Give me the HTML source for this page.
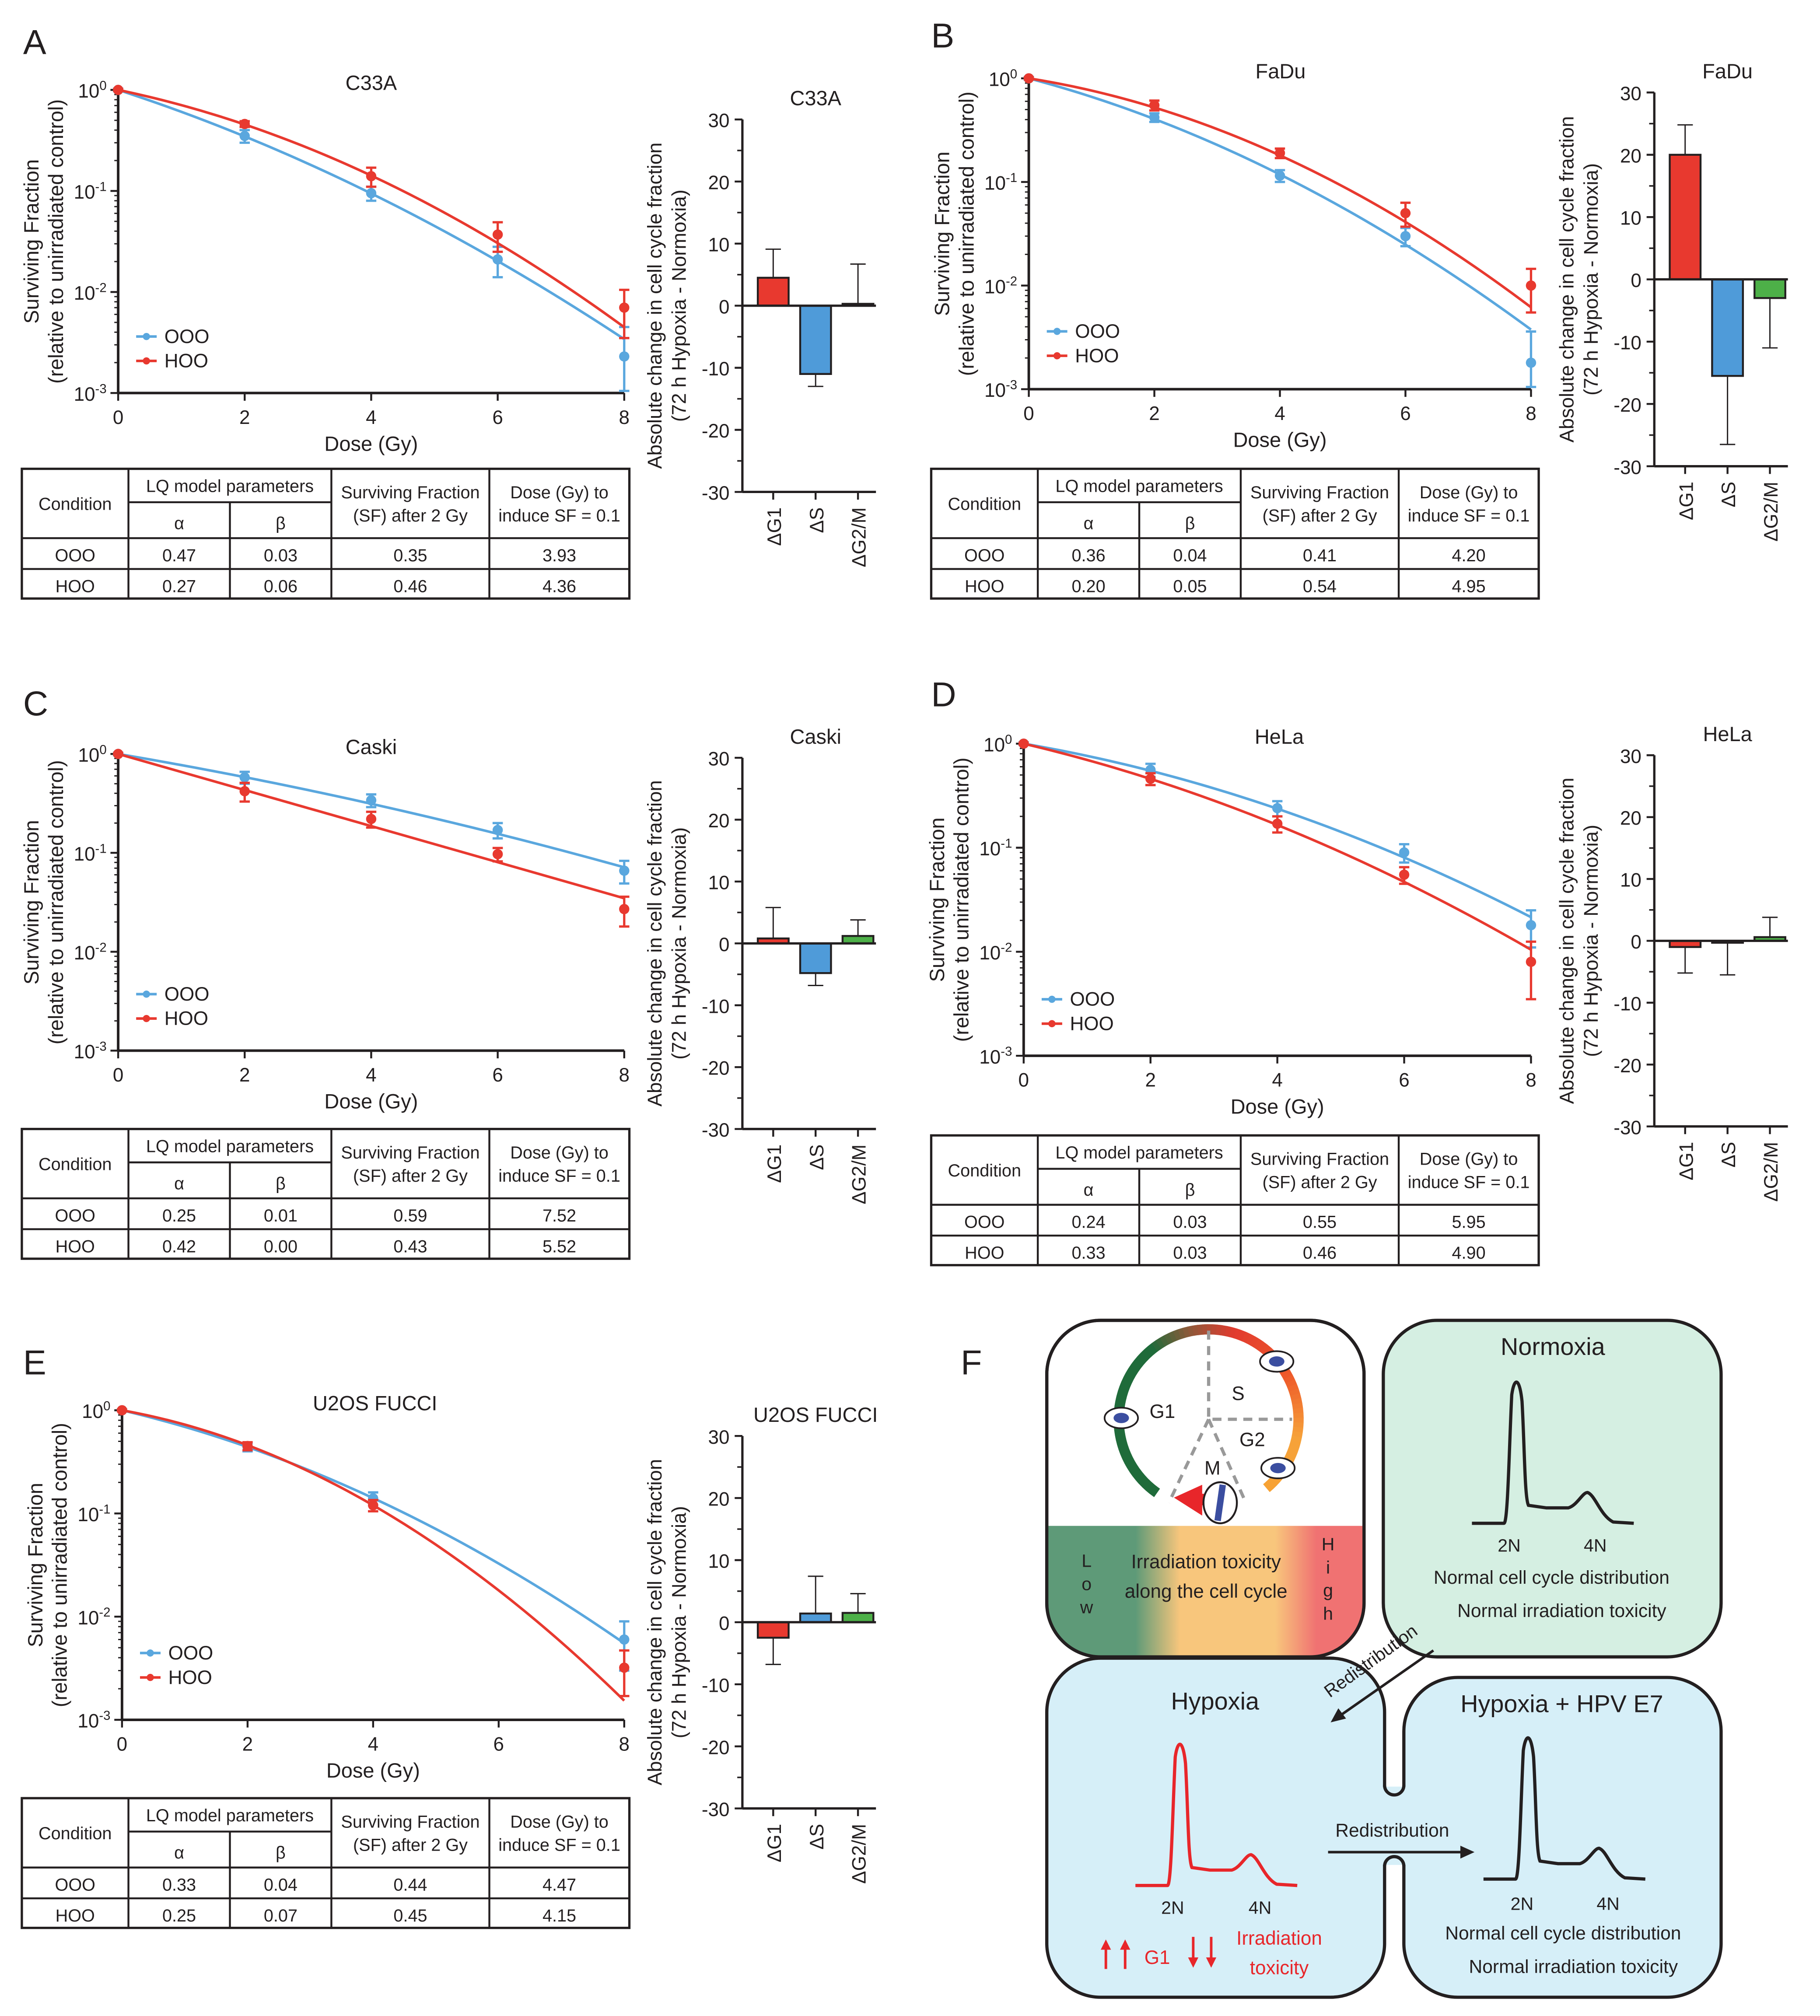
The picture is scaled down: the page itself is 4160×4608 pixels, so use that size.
<!DOCTYPE html>
<html><head><meta charset="utf-8"><style>
html,body{margin:0;padding:0;background:#fff}
svg{display:block}
text{font-family:"Liberation Sans",sans-serif;fill:#231f20}
.n{font-family:"Liberation Sans Narrow","Liberation Sans",sans-serif}
</style></head><body>
<svg id="fig" xmlns="http://www.w3.org/2000/svg" width="4160" height="4608" viewBox="0 0 1417 1569.6">
<g id="root"></g>
<g id="panelF"></g>
</svg>
<script>
// ---------- data ----------
const doses=[0,2,4,6,8];
const aOOO=[1,0.35,0.095,0.021,0.0023], aHOO=[1,0.46,0.14,0.037,0.007];
const aErrO=[0.03,0.05,0.015,0.007,0.0022], aErrH=[0.02,0.03,0.03,0.012,0.0035];
const aParO=[0.47,0.03], aParH=[0.30,0.047];
const aBars=[4.5,-11,0.3], aBarErr=[4.6,-2,6.4];
const bOOO=[1,0.42,0.115,0.03,0.0018], bHOO=[1,0.55,0.19,0.05,0.01];
const bErrO=[0.03,0.04,0.015,0.006,0.0018], bErrH=[0.02,0.06,0.02,0.013,0.0045];
const bParO=[0.37,0.041], bParH=[0.22,0.052];
const bBars=[20,-15.5,-3], bBarErr=[4.8,-11,-8];
const cOOO=[1,0.58,0.34,0.17,0.066], cHOO=[1,0.42,0.22,0.097,0.027];
const cErrO=[0.03,0.08,0.05,0.03,0.017], cErrH=[0.02,0.09,0.04,0.015,0.009];
const cParO=[0.25,0.01], cParH=[0.42,0.00];
const cBars=[0.8,-4.8,1.2], cBarErr=[5,-2,2.6];
const dOOO=[1,0.56,0.24,0.09,0.018], dHOO=[1,0.46,0.17,0.055,0.008];
const dErrO=[0.03,0.08,0.04,0.018,0.007], dErrH=[0.02,0.06,0.03,0.01,0.0045];
const dParO=[0.24,0.03], dParH=[0.33,0.03];
const dBars=[-1,-0.3,0.6], dBarErr=[-4.2,-5.2,3.2];
const eDoses=[0,2,4,8];
const eOOO=[1,0.44,0.14,0.006], eHOO=[1,0.45,0.12,0.0032];
const eErrO=[0.02,0.04,0.02,0.003], eErrH=[0.02,0.04,0.015,0.0015];
const eParO=[0.33,0.04], eParH=[0.25,0.07];
const eBars=[-2.5,1.4,1.5], eBarErr=[-4.3,6,3.1];
const barCats=['ΔG1','ΔS','ΔG2/M'];
const barTicks=[30,20,10,0,-10,-20,-30];
const doseTicks=[0,2,4,6,8];
const decadeExp=[0,-1,-2,-3];
const tblA=[['OOO','0.47','0.03','0.35','3.93'],['HOO','0.27','0.06','0.46','4.36']];
const tblB=[['OOO','0.36','0.04','0.41','4.20'],['HOO','0.20','0.05','0.54','4.95']];
const tblC=[['OOO','0.25','0.01','0.59','7.52'],['HOO','0.42','0.00','0.43','5.52']];
const tblD=[['OOO','0.24','0.03','0.55','5.95'],['HOO','0.33','0.03','0.46','4.90']];
const tblE=[['OOO','0.33','0.04','0.44','4.47'],['HOO','0.25','0.07','0.45','4.15']];

const NS='http://www.w3.org/2000/svg';
const BLUE='#5aa7de', RED='#e8392f', GREEN='#4db048', BBLUE='#4f9bd9';
function E(p,tag,at,txt){const e=document.createElementNS(NS,tag);for(const k in at)e.setAttribute(k,at[k]);if(txt!=null)e.textContent=txt;p.appendChild(e);return e;}
const root=document.getElementById('root');

function survival(g,o){
  const sx=d=>o.x0+(o.x8-o.x0)*d/8;
  const sy=v=>o.y0+(o.y3-o.y0)*(-Math.log10(v))/3;
  const ax=E(g,'g',{});
  
  E(ax,'line',{x1:o.x0,y1:o.y0-3,x2:o.x0,y2:o.y3,stroke:'#231f20','stroke-width':2});
  E(ax,'line',{x1:o.x0,y1:o.y3,x2:o.x8,y2:o.y3,stroke:'#231f20','stroke-width':2});
  doseTicks.forEach(d=>{E(ax,'line',{x1:sx(d),y1:o.y3,x2:sx(d),y2:o.y3+6,stroke:'#231f20','stroke-width':1.5});
    const t=E(ax,'text',{x:sx(d),y:o.y3+24,'font-size':15,'text-anchor':'middle',class:'n'},String(d));
    });
  decadeExp.forEach(ex=>{const y=sy(Math.pow(10,ex));
    E(ax,'line',{x1:o.x0-6,y1:y,x2:o.x0,y2:y,stroke:'#231f20','stroke-width':1.5});
    if(ex>-3)for(let m=2;m<10;m++){const yy=sy(m*Math.pow(10,ex-1));E(ax,'line',{x1:o.x0-3,y1:yy,x2:o.x0,y2:yy,stroke:'#231f20','stroke-width':1});}
    const t=E(ax,'text',{x:o.x0-9,y:y+6,'font-size':15,'text-anchor':'end',class:'n'});
    
    E(t,'tspan',{},'10');E(t,'tspan',{dy:-6,'font-size':10},String(ex));});
  const tt=E(g,'text',{x:o.tx,y:o.y0,'font-size':16,'text-anchor':'middle',class:'n'},o.title);
  
  const xl=E(g,'text',{x:(o.x0+o.x8)/2,y:o.y3+45,'font-size':16,'text-anchor':'middle',class:'n'},'Dose (Gy)');
  
  const cy=(o.y0+o.y3)/2;
  const yl=E(g,'text',{x:0,y:0,'font-size':16,'text-anchor':'middle',transform:`translate(${o.x0-62},${cy}) rotate(-90)`},'Surviving Fraction');
  
  const yl2=E(g,'text',{x:0,y:0,'font-size':16,'text-anchor':'middle',transform:`translate(${o.x0-43},${cy}) rotate(-90)`},'(relative to unirradiated control)');
  
  const series=[[o.O,o.eO,o.pO,BLUE,'ooo'],[o.H,o.eH,o.pH,RED,'hoo']];
  series.forEach(([vals,errs,par,col,nm])=>{
    let d='';for(let i=0;i<=80;i++){const D=8*i/80;const v=Math.exp(-par[0]*D-par[1]*D*D);d+=(i?'L':'M')+sx(D).toFixed(2)+','+sy(Math.max(v,1e-3)).toFixed(2);}
    const c=E(g,'path',{d,fill:'none',stroke:col,'stroke-width':2});
    
    vals.forEach((v,i)=>{const x=sx(o.doses[i]);const lo=Math.max(v-errs[i],1.05e-3),hi=v+errs[i];
      E(g,'line',{x1:x,y1:sy(lo),x2:x,y2:sy(hi),stroke:col,'stroke-width':1.8});
      E(g,'line',{x1:x-4,y1:sy(lo),x2:x+4,y2:sy(lo),stroke:col,'stroke-width':1.8});
      E(g,'line',{x1:x-4,y1:sy(hi),x2:x+4,y2:sy(hi),stroke:col,'stroke-width':1.8});
      const p=E(g,'circle',{cx:x,cy:sy(v),r:4,fill:col});
      });
  });
  [['OOO',BLUE],['HOO',RED]].forEach(([n,col],i)=>{
    const lg=E(g,'g',{});
    const y=o.ly+i*19;
    E(lg,'line',{x1:o.lx,y1:y,x2:o.lx+16,y2:y,stroke:col,'stroke-width':2});
    E(lg,'circle',{cx:o.lx+8,cy:y,r:2.8,fill:col});
    E(lg,'text',{x:o.lx+22,y:y+5,'font-size':15,class:'n'},n);
  });
}

function bars(g,b){
  const sy=v=>b.y0+(b.yn-b.y0)*(30-v)/60;
  const cx=i=>b.ax+24+i*33;
  E(g,'line',{x1:b.ax,y1:sy(30),x2:b.ax,y2:sy(-30),stroke:'#231f20','stroke-width':1.8});
  E(g,'line',{x1:b.ax,y1:sy(-30),x2:b.ax+104,y2:sy(-30),stroke:'#231f20','stroke-width':1.8});
  barTicks.forEach(t=>{E(g,'line',{x1:b.ax-6,y1:sy(t),x2:b.ax,y2:sy(t),stroke:'#231f20','stroke-width':1.5});
    if(t>-30)E(g,'line',{x1:b.ax-4,y1:sy(t-5),x2:b.ax,y2:sy(t-5),stroke:'#231f20','stroke-width':1.2});
    const l=E(g,'text',{x:b.ax-10,y:sy(t)+6,'font-size':15,'text-anchor':'end',class:'n'},String(t));
    });
  const cols=[RED,BBLUE,GREEN];
  b.vals.forEach((v,i)=>{const x=cx(i);
    const r=E(g,'rect',{x:x-12,y:Math.min(sy(0),sy(v)),width:24,height:Math.max(Math.abs(sy(v)-sy(0)),1.5),fill:cols[i],stroke:'#231f20','stroke-width':1.5});
    
    const e=v+b.err[i];
    E(g,'line',{x1:x,y1:sy(v),x2:x,y2:sy(e),stroke:'#231f20','stroke-width':1});
    E(g,'line',{x1:x-6,y1:sy(e),x2:x+6,y2:sy(e),stroke:'#231f20','stroke-width':1});
    E(g,'line',{x1:x,y1:sy(-30),x2:x,y2:sy(-30)+6,stroke:'#231f20','stroke-width':1.5});
    const t=E(g,'text',{x:0,y:0,'font-size':15,'text-anchor':'end',transform:`translate(${x+6},${sy(-30)+12}) rotate(-90)`},barCats[i]);
    });
  E(g,'line',{x1:b.ax,y1:sy(0),x2:b.ax+104,y2:sy(0),stroke:'#231f20','stroke-width':1.8});
  const tt=E(g,'text',{x:b.ax+57,y:b.y0-11,'font-size':16,'text-anchor':'middle',class:'n'},b.title);
  
  const cy=(sy(30)+sy(-30))/2;
  const y1=E(g,'text',{x:0,y:0,'font-size':15.5,'text-anchor':'middle',transform:`translate(${b.ax-63},${cy}) rotate(-90)`},'Absolute change in cell cycle fraction');
  
  E(g,'text',{x:0,y:0,'font-size':15.5,'text-anchor':'middle',transform:`translate(${b.ax-44},${cy}) rotate(-90)`},'(72 h Hypoxia - Normoxia)');
}

function table(g,x,y,rows){
  const cx=[0,83,162,241,364,473].map(v=>v+x);
  const ry=[0,26,54,78,101].map(v=>v+y);
  const t=E(g,'g',{});
  const L=(a,b,c,d)=>E(t,'line',{x1:a,y1:b,x2:c,y2:d,stroke:'#231f20','stroke-width':1.5});
  E(t,'rect',{x:cx[0],y:ry[0],width:cx[5]-cx[0],height:ry[4]-ry[0],fill:'none',stroke:'#231f20','stroke-width':1.8});
  L(cx[0],ry[2],cx[5],ry[2]);L(cx[0],ry[3],cx[5],ry[3]);L(cx[1],ry[1],cx[3],ry[1]);
  [1,3,4].forEach(i=>L(cx[i],ry[0],cx[i],ry[4]));L(cx[2],ry[1],cx[2],ry[4]);
  const T=(xx,yy,s)=>E(t,'text',{x:xx,y:yy,'font-size':13.5,'text-anchor':'middle',class:'n'},s);
  T((cx[0]+cx[1])/2,ry[0]+32,'Condition');T((cx[1]+cx[3])/2,ry[0]+18,'LQ model parameters');
  T((cx[1]+cx[2])/2,ry[1]+21,'α');T((cx[2]+cx[3])/2,ry[1]+21,'β');
  T((cx[3]+cx[4])/2,ry[0]+23,'Surviving Fraction');T((cx[3]+cx[4])/2,ry[0]+41,'(SF) after 2 Gy');
  T((cx[4]+cx[5])/2,ry[0]+23,'Dose (Gy) to');T((cx[4]+cx[5])/2,ry[0]+41,'induce SF = 0.1');
  rows.forEach((r,ri)=>r.forEach((s,ci)=>T((cx[ci]+cx[ci+1])/2,ry[2+ri]+18,s)));
}

function panel(name,letter,lp,o,b,tb,rows){
  const g=E(root,'g',{});
  E(g,'text',{x:lp[0],y:lp[1],'font-size':27},letter);
  survival(g,o);bars(g,b);table(g,tb[0],tb[1],rows);
}
panel('a','A',[18,42],{x0:92,x8:486,y0:70,y3:306,title:'C33A',tx:289,O:aOOO,H:aHOO,eO:aErrO,eH:aErrH,pO:aParO,pH:aParH,doses,lx:106,ly:262},
  {ax:578,y0:93,yn:383,vals:aBars,err:aBarErr,title:'C33A'},[17,365],tblA);
panel('b','B',[725,37],{x0:801,x8:1192,y0:61,y3:303,title:'FaDu',tx:997,O:bOOO,H:bHOO,eO:bErrO,eH:bErrH,pO:bParO,pH:bParH,doses,lx:815,ly:258},
  {ax:1288,y0:72,yn:363,vals:bBars,err:bBarErr,title:'FaDu'},[725,365],tblB);
panel('c','C',[18,557],{x0:92,x8:486,y0:587,y3:818,title:'Caski',tx:289,O:cOOO,H:cHOO,eO:cErrO,eH:cErrH,pO:cParO,pH:cParH,doses,lx:106,ly:774},
  {ax:578,y0:590,yn:879,vals:cBars,err:cBarErr,title:'Caski'},[17,879],tblC);
panel('d','D',[725,550],{x0:797,x8:1192,y0:579,y3:822,title:'HeLa',tx:996,O:dOOO,H:dHOO,eO:dErrO,eH:dErrH,pO:dParO,pH:dParH,doses,lx:811,ly:778},
  {ax:1288,y0:588,yn:877,vals:dBars,err:dBarErr,title:'HeLa'},[725,884],tblD);
panel('e','E',[18,1070],{x0:95,x8:486,y0:1098,y3:1339,title:'U2OS FUCCI',tx:292,O:eOOO,H:eHOO,eO:eErrO,eH:eErrH,pO:eParO,pH:eParH,doses:eDoses,lx:109,ly:1287},
  {ax:578,y0:1118,yn:1408,vals:eBars,err:eBarErr,title:'U2OS FUCCI'},[17,1400],tblE);

// ---------- panel F ----------
const F=document.getElementById('panelF');
E(F,'text',{x:748,y:1070,'font-size':27},'F');
const defs=E(F,'defs',{});
const lg=E(defs,'linearGradient',{id:'tox',x1:0,x2:1,y1:0,y2:0});
[[0,'#5e9a78'],[0.28,'#5e9a78'],[0.42,'#f8c67c'],[0.72,'#f8c67c'],[0.85,'#f07272'],[1,'#f07272']].forEach(([o,c])=>E(lg,'stop',{offset:o,'stop-color':c}));
const cp=E(defs,'clipPath',{id:'tl'});
E(cp,'rect',{x:815,y:1028,width:247,height:262,rx:42});
function box(x,y,w,h,fill,name){const r=E(F,'rect',{x,y,width:w,height:h,rx:42,fill,stroke:'#231f20','stroke-width':2.5});}
box(1077,1028,263,262,'#d5efe2','normoxia-box');
box(815,1291,263,264,'#d6eff8','hypoxia-box');
box(1093,1306,247,249,'#d6eff8','hypoxia-hpv-box');
// channel joining the two lower boxes
E(F,'rect',{x:1076,y:1391,width:19,height:61,fill:'#d6eff8'});
E(F,'path',{d:'M1078,1390A7.5,7.5 0 0 0 1093,1390',fill:'none',stroke:'#231f20','stroke-width':2.5});
E(F,'path',{d:'M1078,1453A7.5,7.5 0 0 1 1093,1453',fill:'none',stroke:'#231f20','stroke-width':2.5});
box(815,1028,247,262,'#fff','cell-cycle-box');
E(F,'rect',{x:815,y:1188,width:247,height:102,fill:'url(#tox)','clip-path':'url(#tl)'});
E(F,'rect',{x:815,y:1028,width:247,height:262,rx:42,fill:'none',stroke:'#231f20','stroke-width':2.5});
// cell cycle ring (angle 0 = 12 o'clock, clockwise)
const CX=941,CY=1105,R=70;
const ringStops=[[215,'#1f6b3a'],[320,'#1f6b3a'],[345,'#8a5a3a'],[375,'#e23b2f'],[420,'#ee5a2a'],[460,'#f6a23a'],[500,'#f7a234']];
function colAt(a){for(let i=0;i<ringStops.length-1;i++){const[a0,c0]=ringStops[i],[a1,c1]=ringStops[i+1];if(a<=a1){const t=Math.max(0,(a-a0)/(a1-a0));const p=c=>[1,3,5].map(k=>parseInt(c.substr(k,2),16));const A=p(c0),B=p(c1);return 'rgb('+A.map((v,j)=>Math.round(v+(B[j]-v)*t)).join(',')+')';}}return ringStops[ringStops.length-1][1];}
for(let a=215;a<500;a+=3){const r1=(a-90)*Math.PI/180,r2=(Math.min(a+3.5,500)-90)*Math.PI/180;
  E(F,'path',{d:`M${CX+R*Math.cos(r1)},${CY+R*Math.sin(r1)}A${R},${R} 0 0 1 ${CX+R*Math.cos(r2)},${CY+R*Math.sin(r2)}`,fill:'none',stroke:colAt(a),'stroke-width':8});}
E(F,'path',{d:'M941,1036V1105H1006M941,1105L910,1170M941,1105L970,1170',fill:'none',stroke:'#999','stroke-width':2.5,'stroke-dasharray':'7,5'});
E(F,'path',{d:'M914,1166L936,1156L936,1180Z',fill:'#e8262a'});
E(F,'rect',{x:934,y:1163,width:12,height:9,fill:'#e8262a'});
E(F,'ellipse',{cx:950,cy:1170,rx:13,ry:16,fill:'#fff',stroke:'#231f20','stroke-width':1.5});
E(F,'line',{x1:952,y1:1156,x2:948,y2:1184,stroke:'#3b4ea0','stroke-width':5});
[[873,1104],[994,1060],[995,1143]].forEach(([x,y])=>{E(F,'ellipse',{cx:x,cy:y,rx:13,ry:8,fill:'#fff',stroke:'#231f20','stroke-width':1.3});E(F,'ellipse',{cx:x,cy:y,rx:6,ry:4,fill:'#3b4ea0'});});
const FT=(x,y,s,sz,col,anch)=>E(F,'text',{x,y,'font-size':sz,'text-anchor':anch||'middle',style:col?'fill:'+col:''},s);
FT(905,1104,'G1',15);FT(964,1090,'S',15);FT(975,1126,'G2',15);FT(944,1148,'M',15);
FT(939,1221,'Irradiation toxicity',15);FT(939,1244,'along the cell cycle',15);
['L','o','w'].forEach((c,i)=>FT(846,1220+i*18,c,14));['H','i','g','h'].forEach((c,i)=>FT(1034,1207+i*18,c,14));
FT(1209,1055,'Normoxia',19);FT(946,1331,'Hypoxia',19);FT(1216,1333,'Hypoxia + HPV E7',19);
function peak(x0,y0,col,name){const d=`M${x0},${y0}L${x0+25},${y0} C${x0+28},${y0} ${x0+29},${y0-60} ${x0+31},${y0-100} C${x0+33},${y0-114} ${x0+37},${y0-114} ${x0+39},${y0-95} C${x0+41},${y0-60} ${x0+41},${y0-20} ${x0+44},${y0-14} L${x0+58},${y0-12} L${x0+75},${y0-12} C${x0+82},${y0-14} ${x0+86},${y0-24} ${x0+90},${y0-24} C${x0+96},${y0-22} ${x0+100},${y0-6} ${x0+110},${y0-1} L${x0+126},${y0}`;
  const p=E(F,'path',{d,fill:'none',stroke:col,'stroke-width':2.5});}
peak(1146,1186,'#231f20','normoxia-histogram');peak(884,1468,'#e8262a','hypoxia-histogram');peak(1155,1463,'#231f20','hpv-histogram');
FT(1175,1208,'2N',14);FT(1242,1208,'4N',14);FT(1208,1233,'Normal cell cycle distribution',14.5);FT(1216,1259,'Normal irradiation toxicity',14.5);
FT(913,1490,'2N',14);FT(981,1490,'4N',14);
FT(1185,1487,'2N',14);FT(1252,1487,'4N',14);FT(1217,1510,'Normal cell cycle distribution',14.5);FT(1225,1536,'Normal irradiation toxicity',14.5);
FT(901,1529,'G1',15,'#e8262a');FT(996,1514,'Irradiation',15,'#e8262a');FT(996,1537,'toxicity',15,'#e8262a');
const ar=(x,y1,y2)=>{E(F,'line',{x1:x,y1,x2:x,y2:y2+(y2>y1?-6:6),stroke:'#e8262a','stroke-width':2});E(F,'path',{d:`M${x-4},${y2+(y2>y1?-8:8)}L${x+4},${y2+(y2>y1?-8:8)}L${x},${y2}Z`,fill:'#e8262a'});};
ar(861,1533,1510);ar(876,1533,1510);ar(929,1508,1532);ar(943,1508,1532);
E(F,'line',{x1:1034,y1:1442,x2:1139,y2:1442,stroke:'#231f20','stroke-width':2});E(F,'path',{d:'M1148,1442L1137,1437L1137,1447Z',fill:'#231f20'});
FT(1084,1430,'Redistribution',14.5);
E(F,'line',{x1:1116,y1:1285,x2:1043,y2:1336,stroke:'#231f20','stroke-width':2});E(F,'path',{d:'M1036,1341L1042,1330L1048,1338Z',fill:'#231f20'});
E(F,'text',{x:0,y:0,'font-size':14,'text-anchor':'middle',transform:'translate(1070,1297) rotate(-36)'},'Redistribution');
</script>
</body></html>
